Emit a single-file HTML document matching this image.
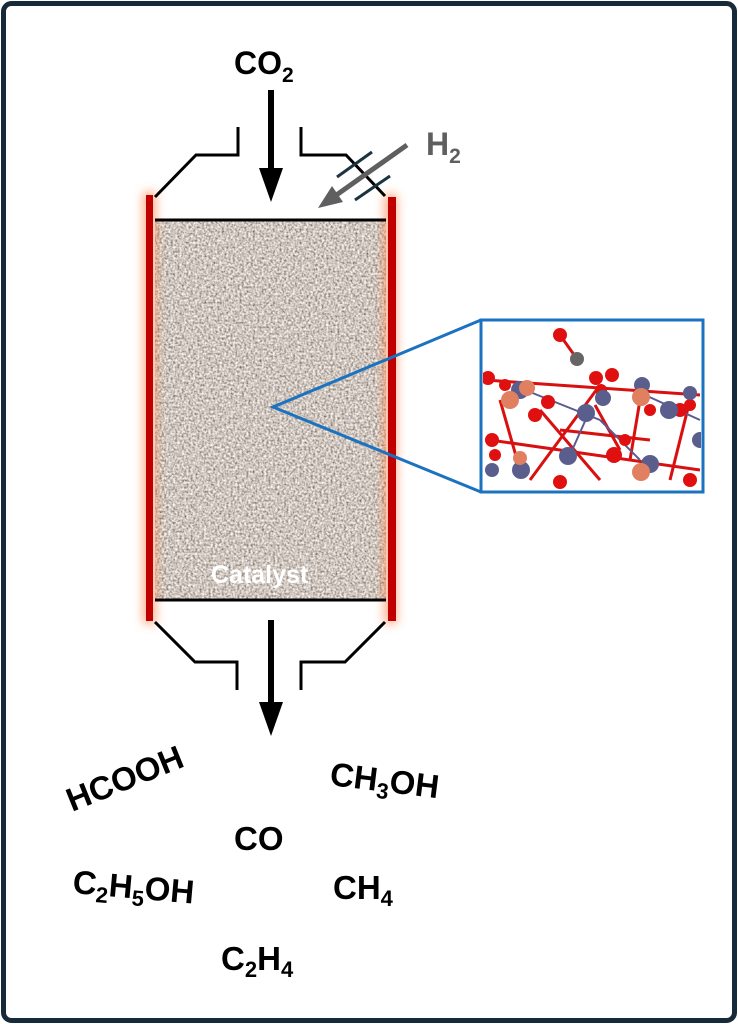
<!DOCTYPE html>
<html><head><style>
html,body{margin:0;padding:0;background:#fff;}
svg{display:block;}
text{font-family:"Liberation Sans",Arial,sans-serif;font-weight:bold;}
</style></head><body>
<svg width="738" height="1024" viewBox="0 0 738 1024" xmlns="http://www.w3.org/2000/svg">
<defs>
<filter id="noise" x="0" y="0" width="100%" height="100%">
<feTurbulence type="fractalNoise" baseFrequency="0.45" numOctaves="2" seed="3" result="t"/>
<feColorMatrix in="t" type="matrix" values="1.3 0 0 0 -0.03  1.25 0 0 0 -0.06  1.2 0 0 0 -0.08  0 0 0 0 1"/>
</filter>
<filter id="glow" x="-200%" y="-10%" width="500%" height="120%"><feGaussianBlur stdDeviation="5"/></filter>
<clipPath id="cb"><rect x="483" y="322" width="218" height="168"/></clipPath>
</defs>
<rect x="3.5" y="3.5" width="731" height="1017" rx="8" fill="#fff" stroke="#172a3a" stroke-width="5"/>

<rect x="155" y="220" width="231" height="380" fill="#aea298" filter="url(#noise)"/>
<rect x="143" y="192" width="13" height="432" fill="#ff7a3c" opacity="0.6" filter="url(#glow)"/>
<rect x="384" y="194" width="13" height="430" fill="#ff7a3c" opacity="0.6" filter="url(#glow)"/>
<rect x="146" y="195" width="7" height="426" fill="#c00000"/>
<rect x="388" y="197" width="8" height="424" fill="#c00000"/>

<g stroke="#000" stroke-width="3" fill="none">
<line x1="155" y1="220" x2="386" y2="220"/>
<line x1="155" y1="600" x2="386" y2="600"/>
<polyline points="155,197 196,155 238,155 238,127"/>
<polyline points="301,127 301,155 346,155 385,196"/>
<polyline points="155,622 195,662 237,662 237,690"/>
<polyline points="301,690 301,662 345,662 385,622"/>
</g>
<g stroke="#1c3340" stroke-width="3">
<line x1="337" y1="177" x2="372" y2="152"/>
<line x1="355" y1="200" x2="390" y2="176"/>
</g>

<line x1="271" y1="90" x2="271" y2="170" stroke="#000" stroke-width="6"/>
<polygon points="259,168 283,168 271,202" fill="#000"/>
<line x1="271" y1="620" x2="271" y2="705" stroke="#000" stroke-width="6"/>
<polygon points="259,702 283,702 271,736" fill="#000"/>
<line x1="407" y1="145" x2="335" y2="196" stroke="#5f5f5f" stroke-width="5"/>
<polygon points="318,208 332,186 343,202" fill="#5f5f5f"/>

<text x="234" y="74" font-size="32" fill="#000">CO<tspan font-size="21" dy="8">2</tspan></text>
<text x="426" y="155" font-size="32" fill="#5f5f5f">H<tspan font-size="21" dy="8">2</tspan></text>
<text x="211" y="583" font-size="25" fill="#fff">Catalyst</text>

<g stroke="#1b72c0" stroke-width="3" fill="none">
<polyline points="481,320 273,407 481,492"/>
<rect x="481" y="320" width="222" height="172" fill="#fff"/>
</g>
<g clip-path="url(#cb)">
<g stroke="#d81010" stroke-width="3">
<line x1="485" y1="380" x2="700" y2="395"/>
<line x1="490" y1="440" x2="700" y2="470"/>
<line x1="500" y1="400" x2="520" y2="470"/>
<line x1="540" y1="410" x2="600" y2="480"/>
<line x1="595" y1="405" x2="620" y2="450"/>
<line x1="640" y1="400" x2="630" y2="460"/>
<line x1="690" y1="400" x2="670" y2="480"/>
<line x1="560" y1="430" x2="650" y2="440"/>
<line x1="600" y1="385" x2="530" y2="480"/>
<line x1="560" y1="335" x2="577" y2="359"/>
</g>
<g stroke="#5a5a90" stroke-width="2">
<line x1="530" y1="392" x2="600" y2="420"/>
<line x1="590" y1="410" x2="570" y2="455"/>
<line x1="600" y1="420" x2="640" y2="460"/>
<line x1="645" y1="395" x2="700" y2="420"/>
</g>
<g fill="#e01010">
<circle cx="488" cy="378" r="7"/><circle cx="505" cy="385" r="6"/><circle cx="548" cy="402" r="7"/><circle cx="535" cy="415" r="7"/>
<circle cx="596" cy="378" r="7"/><circle cx="612" cy="375" r="7"/><circle cx="601" cy="390" r="6"/>
<circle cx="492" cy="440" r="7"/><circle cx="495" cy="455" r="6"/><circle cx="614" cy="455" r="8"/><circle cx="625" cy="440" r="6"/>
<circle cx="680" cy="410" r="7"/><circle cx="690" cy="405" r="6"/><circle cx="560" cy="482" r="7"/><circle cx="690" cy="480" r="7"/><circle cx="650" cy="410" r="6"/>
<circle cx="560" cy="335" r="7"/><circle cx="700" cy="440" r="6"/>
</g>
<circle cx="577" cy="359" r="7" fill="#666"/>
<g fill="#5a5e8c">
<circle cx="520" cy="390" r="9"/><circle cx="586" cy="413" r="9"/><circle cx="603" cy="398" r="8"/><circle cx="568" cy="456" r="9"/>
<circle cx="642" cy="385" r="8"/><circle cx="690" cy="393" r="7"/><circle cx="669" cy="410" r="9"/><circle cx="700" cy="440" r="8"/>
<circle cx="492" cy="470" r="7"/><circle cx="521" cy="470" r="9"/><circle cx="650" cy="464" r="9"/>
</g>
<g fill="#e08060">
<circle cx="510" cy="400" r="9"/><circle cx="527" cy="388" r="8"/><circle cx="641" cy="397" r="9"/><circle cx="520" cy="458" r="7"/><circle cx="641" cy="472" r="9"/>
</g>
</g>

<text x="0" y="0" font-size="33" transform="translate(72,812) rotate(-22)">HCOOH</text>
<text x="0" y="0" font-size="33" transform="translate(329,785) rotate(7)">CH<tspan font-size="22" dy="7">3</tspan><tspan dy="-7">OH</tspan></text>
<text x="234" y="850" font-size="33">CO</text>
<text x="0" y="0" font-size="33" transform="translate(72,893) rotate(5)">C<tspan font-size="22" dy="7">2</tspan><tspan dy="-7">H</tspan><tspan font-size="22" dy="7">5</tspan><tspan dy="-7">OH</tspan></text>
<text x="333" y="899" font-size="33">CH<tspan font-size="22" dy="7">4</tspan></text>
<text x="221" y="970" font-size="33">C<tspan font-size="22" dy="7">2</tspan><tspan dy="-7">H</tspan><tspan font-size="22" dy="7">4</tspan></text>
</svg>
</body></html>
